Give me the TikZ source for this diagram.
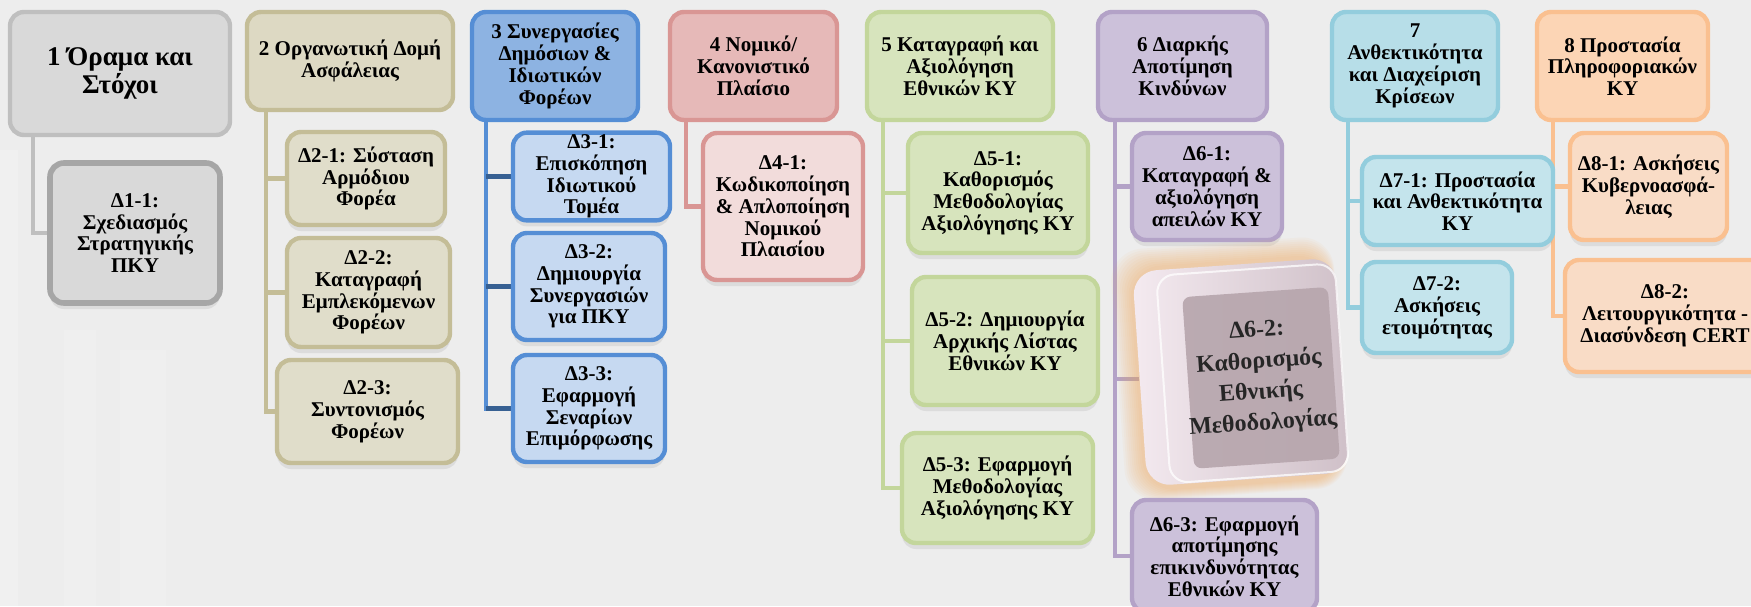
\documentclass[tikz,border=0pt]{standalone}
\usepackage{fontspec}
\setmainfont{Liberation Serif}
\usetikzlibrary{shadows}
\definecolor{bgc}{HTML}{EDEDED}
\definecolor{grayf}{HTML}{D9D9D9}
\definecolor{grayd}{HTML}{BFBFBF}
\definecolor{grayk}{HTML}{A6A6A6}
\definecolor{khf}{HTML}{DDD9C3}
\definecolor{khd}{HTML}{C4BD97}
\definecolor{khc}{HTML}{E0DDCA}
\definecolor{bluf}{HTML}{8DB3E2}
\definecolor{blud}{HTML}{558ED5}
\definecolor{bluc}{HTML}{C6D9F1}
\definecolor{blus}{HTML}{376092}
\definecolor{redf}{HTML}{E6B9B8}
\definecolor{redd}{HTML}{D99694}
\definecolor{redc}{HTML}{F2DCDB}
\definecolor{grnf}{HTML}{D7E4BD}
\definecolor{grnd}{HTML}{C3D69B}
\definecolor{purf}{HTML}{CCC1DA}
\definecolor{purd}{HTML}{B3A2C7}
\definecolor{cyaf}{HTML}{B7DEE8}
\definecolor{cyad}{HTML}{93CDDD}
\definecolor{cyac}{HTML}{C4E4EC}
\definecolor{orgf}{HTML}{FCD5B5}
\definecolor{orgd}{HTML}{FAC090}
\definecolor{orgc}{HTML}{F9DCC6}
\definecolor{glowc}{HTML}{F2A650}
\definecolor{facec}{HTML}{B7A6AD}
\definecolor{bevelc}{HTML}{F4EAF0}
\definecolor{bodyr}{HTML}{CFC0C8}
\pgfdeclarelayer{back}
\pgfdeclarelayer{lines}
\pgfsetlayers{back,lines,main}

\begin{document}
\begin{tikzpicture}[x=0.5pt,y=-0.5pt,
  box/.style={rectangle,rounded corners=7pt,line width=2.2pt,align=center,inner sep=1pt,
    font=\bfseries\fontsize{10.5}{10.9}\selectfont},
  sub/.style={box,drop shadow={opacity=0.15,shadow xshift=0pt,shadow yshift=-3pt}},
  g1/.style={draw=grayd,fill=grayf},
  g2/.style={draw=khd,fill=khf},
  g2c/.style={draw=khd,fill=khc},
  g3/.style={draw=blud,fill=bluf},
  g3c/.style={draw=blud,fill=bluc},
  g4/.style={draw=redd,fill=redf},
  g4c/.style={draw=redd,fill=redc},
  g5/.style={draw=grnd,fill=grnf},
  g6/.style={draw=purd,fill=purf},
  g7/.style={draw=cyad,fill=cyaf},
  g7c/.style={draw=cyad,fill=cyac},
  g8/.style={draw=orgd,fill=orgf},
  g8c/.style={draw=orgd,fill=orgc},
  link/.style={line width=2.2pt}]
\useasboundingbox (0,0) rectangle (1751,606);
\begin{pgfonlayer}{back}
\fill[bgc] (0,0) rectangle (1751,606);
\fill[white,opacity=0.18] (0,150) rectangle (18,606);
\fill[white,opacity=0.15] (64,330) rectangle (96,606);
\fill[white,opacity=0.12] (120,350) rectangle (166,606);
\end{pgfonlayer}

\node[box,g1,font=\bfseries\fontsize{13.5}{14}\selectfont,minimum width=110pt,minimum height=61.5pt] (p1) at (120,73.5) {1 Όραμα και\\Στόχοι};
\node[sub,g1,draw=grayk,line width=2.8pt,minimum width=85pt,minimum height=70pt] (d11) at (135,233) {Δ1-1:\\Σχεδιασμός\\Στρατηγικής\\ΠΚΥ};

\node[box,g2,minimum width=103pt,minimum height=49pt] (p2) at (350,61) {2 Οργανωτική Δομή\\Ασφάλειας};
\node[sub,g2c,minimum width=79pt,minimum height=46.5pt] (d21) at (366,178.5) {Δ2-1: Σύσταση\\Αρμόδιου\\Φορέα};
\node[sub,g2c,minimum width=81.5pt,minimum height=54.5pt] (d22) at (368.5,292.5) {Δ2-2:\\Καταγραφή\\Εμπλεκόμενων\\Φορέων};
\node[sub,g2c,minimum width=90.5pt,minimum height=51.5pt] (d23) at (367.5,411.5) {Δ2-3:\\Συντονισμός\\Φορέων};

\node[box,g3,minimum width=83pt,minimum height=54pt] (p3) at (555,66) {3 Συνεργασίες\\Δημόσιων \&\\Ιδιωτικών\\Φορέων};
\node[sub,g3c,minimum width=78.5pt,minimum height=43.5pt] (d31) at (591.5,176.5) {Δ3-1:\\Επισκόπηση\\Ιδιωτικού\\Τομέα};
\node[sub,g3c,minimum width=76pt,minimum height=53.5pt] (d32) at (589,286.5) {Δ3-2:\\Δημιουργία\\Συνεργασιών\\για ΠΚΥ};
\node[sub,g3c,minimum width=76pt,minimum height=53.5pt] (d33) at (589,408.5) {Δ3-3:\\Εφαρμογή\\Σεναρίων\\Επιμόρφωσης};

\node[box,g4,minimum width=83.5pt,minimum height=54pt] (p4) at (753.5,66) {4 Νομικό/\\Κανονιστικό\\Πλαίσιο};
\node[sub,g4c,minimum width=80pt,minimum height=73.5pt] (d41) at (783,206.5) {Δ4-1:\\Κωδικοποίηση\\\& Απλοποίηση\\Νομικού\\Πλαισίου};

\node[box,g5,minimum width=93pt,minimum height=54pt] (p5) at (960,66) {5 Καταγραφή και\\Αξιολόγηση\\Εθνικών ΚΥ};
\node[sub,g5,minimum width=90pt,minimum height=60pt] (d51) at (998,193) {Δ5-1:\\Καθορισμός\\Μεθοδολογίας\\Αξιολόγησης ΚΥ};
\node[sub,g5,minimum width=93pt,minimum height=64pt] (d52) at (1005,341) {Δ5-2: Δημιουργία\\Αρχικής Λίστας\\Εθνικών ΚΥ};
\node[sub,g5,minimum width=95.5pt,minimum height=55pt] (d53) at (997.5,488) {Δ5-3: Εφαρμογή\\Μεθοδολογίας\\Αξιολόγησης ΚΥ};

\node[box,g6,minimum width=84.5pt,minimum height=54pt] (p6) at (1182.5,66) {6 Διαρκής\\Αποτίμηση\\Κινδύνων};
\node[sub,g6,minimum width=75pt,minimum height=53.5pt] (d61) at (1207,186.5) {Δ6-1:\\Καταγραφή \&\\αξιολόγηση\\απειλών ΚΥ};
\foreach \g in {2,4,...,20}
  \fill[glowc,opacity=0.05,rounded corners=16pt,rotate around={4:(1241,372)}] ({1138-\g},{262-\g}) rectangle ({1336+\g/4},{484+\g/2});
\node[rounded corners=12pt,left color=bevelc,right color=bodyr,rotate=4,minimum width=101.5pt,minimum height=107.5pt] (d62) at (1241,372) {};
\draw[white,opacity=0.75,line width=1pt,rounded corners=9pt,rotate around={4:(1241,372)}] (1163,270) rectangle (1342,478);
\fill[facec,opacity=0.92,rounded corners=4pt,rotate around={4:(1259,378)}] (1188,292) rectangle (1334,464);
\node[rotate=4,align=center,text=black!85,font=\bfseries\fontsize{12}{15.5}\selectfont] (d62t) at (1260,378) {Δ6-2:\\Καθορισμός\\Εθνικής\\Μεθοδολογίας};
\node[sub,g6,minimum width=92.5pt,minimum height=56pt] (d63) at (1224.5,556) {Δ6-3: Εφαρμογή\\αποτίμησης\\επικινδυνότητας\\Εθνικών ΚΥ};

\node[box,g7,minimum width=83pt,minimum height=54pt] (p7) at (1415,66) {7\\Ανθεκτικότητα\\και Διαχείριση\\Κρίσεων};
\node[sub,g7c,minimum width=95.5pt,minimum height=44pt] (d71) at (1457.5,201) {Δ7-1: Προστασία\\και Ανθεκτικότητα\\ΚΥ};
\node[sub,g7c,minimum width=75pt,minimum height=45.5pt] (d72) at (1437,307.5) {Δ7-2:\\Ασκήσεις\\ετοιμότητας};

\node[box,g8,minimum width=85.5pt,minimum height=54pt] (p8) at (1622.5,66) {8 Προστασία\\Πληροφοριακών\\ΚΥ};
\node[sub,g8c,minimum width=78.5pt,minimum height=53.5pt] (d81) at (1648.5,186.5) {Δ8-1: Ασκήσεις\\Κυβερνοασφά-\\λειας};
\node[sub,g8c,minimum width=100pt,minimum height=56pt] (d82) at (1665,316) {Δ8-2:\\Λειτουργικότητα -\\Διασύνδεση CERT};

\begin{pgfonlayer}{lines}
\coordinate (r1) at ([xshift=12.5pt]p1.south west);
\coordinate (r2) at ([xshift=10.5pt]p2.south west);
\coordinate (r3) at ([xshift=8pt]p3.south west);
\coordinate (r4) at ([xshift=9pt]p4.south west);
\coordinate (r5) at ([xshift=9pt]p5.south west);
\coordinate (r6) at ([xshift=9.5pt]p6.south west);
\coordinate (r7) at ([xshift=9pt]p7.south west);
\coordinate (r8) at ([xshift=9pt]p8.south west);
\draw[link,grayd] (r1) |- (d11.west);
\foreach \c in {d21,d22,d23} \draw[link,khd] (r2) |- (\c.west);
\draw[link,blud] (r3) |- (d33.west);
\foreach \c in {d31,d32,d33} \draw[link,blus] (r3 |- \c.west) -- (\c.west);
\draw[link,redd] (r4) |- (d41.west);
\foreach \c in {d51,d52,d53} \draw[link,grnd] (r5) |- (\c.west);
\foreach \c in {d61,d62,d63} \draw[link,purd] (r6) |- (\c.west);
\foreach \c in {d71,d72} \draw[link,cyad] (r7) |- (\c.west);
\foreach \c in {d81,d82} \draw[link,orgd] (r8) |- (\c.west);
\end{pgfonlayer}
\end{tikzpicture}
\end{document}
